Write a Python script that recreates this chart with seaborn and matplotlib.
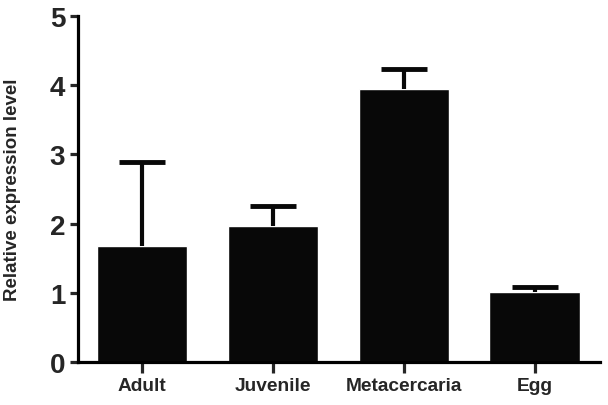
import matplotlib
matplotlib.use("Agg")
import matplotlib.pyplot as plt
import numpy as np
import seaborn as sns

# values
stages = ["Adult", "Juvenile", "Metacercaria", "Egg"]
means = [1.67, 1.97, 3.95, 1.01]
errors = [1.22, 0.29, 0.28, 0.07]

sns.set_style("ticks")
plt.rcParams["font.family"] = ["Liberation Sans", "DejaVu Sans"]
plt.rcParams["font.weight"] = "bold"

fig = plt.figure(figsize=(6.08, 4.06), dpi=100)
ax = fig.add_axes([0.128, 0.106, 0.859, 0.852])

sns.barplot(x=stages, y=means, color="#080808", saturation=1, width=0.69,
            errorbar=None, ax=ax)

# upper error bars only
eb = ax.errorbar(np.arange(len(stages)), means, yerr=[np.zeros(len(errors)), errors],
                 fmt="none", ecolor="#080808", elinewidth=3, capsize=16.5,
                 capthick=3.5, zorder=1)
eb[1][0].set_visible(False)  # no lower cap
eb[1][1].set_solid_capstyle("round")

ax.set_xlim(-0.49, 3.5)
ax.set_ylim(0, 5)
ax.set_yticks([0, 1, 2, 3, 4, 5])
ax.set_ylabel("Relative expression level", fontsize=13.5, fontweight="bold")
ax.yaxis.set_label_coords(-0.108, 0.5)

for side in ["top", "right"]:
    ax.spines[side].set_visible(False)
for side in ["left", "bottom"]:
    ax.spines[side].set_linewidth(2.3)
    ax.spines[side].set_color("black")

ax.tick_params(axis="y", labelsize=20, width=2.3, length=6, pad=3)
ax.tick_params(axis="x", labelsize=13.8, width=2.3, length=8, pad=3)
for lab in ax.get_xticklabels() + ax.get_yticklabels():
    lab.set_fontweight("bold")

fig.savefig("out.png", dpi=100)
